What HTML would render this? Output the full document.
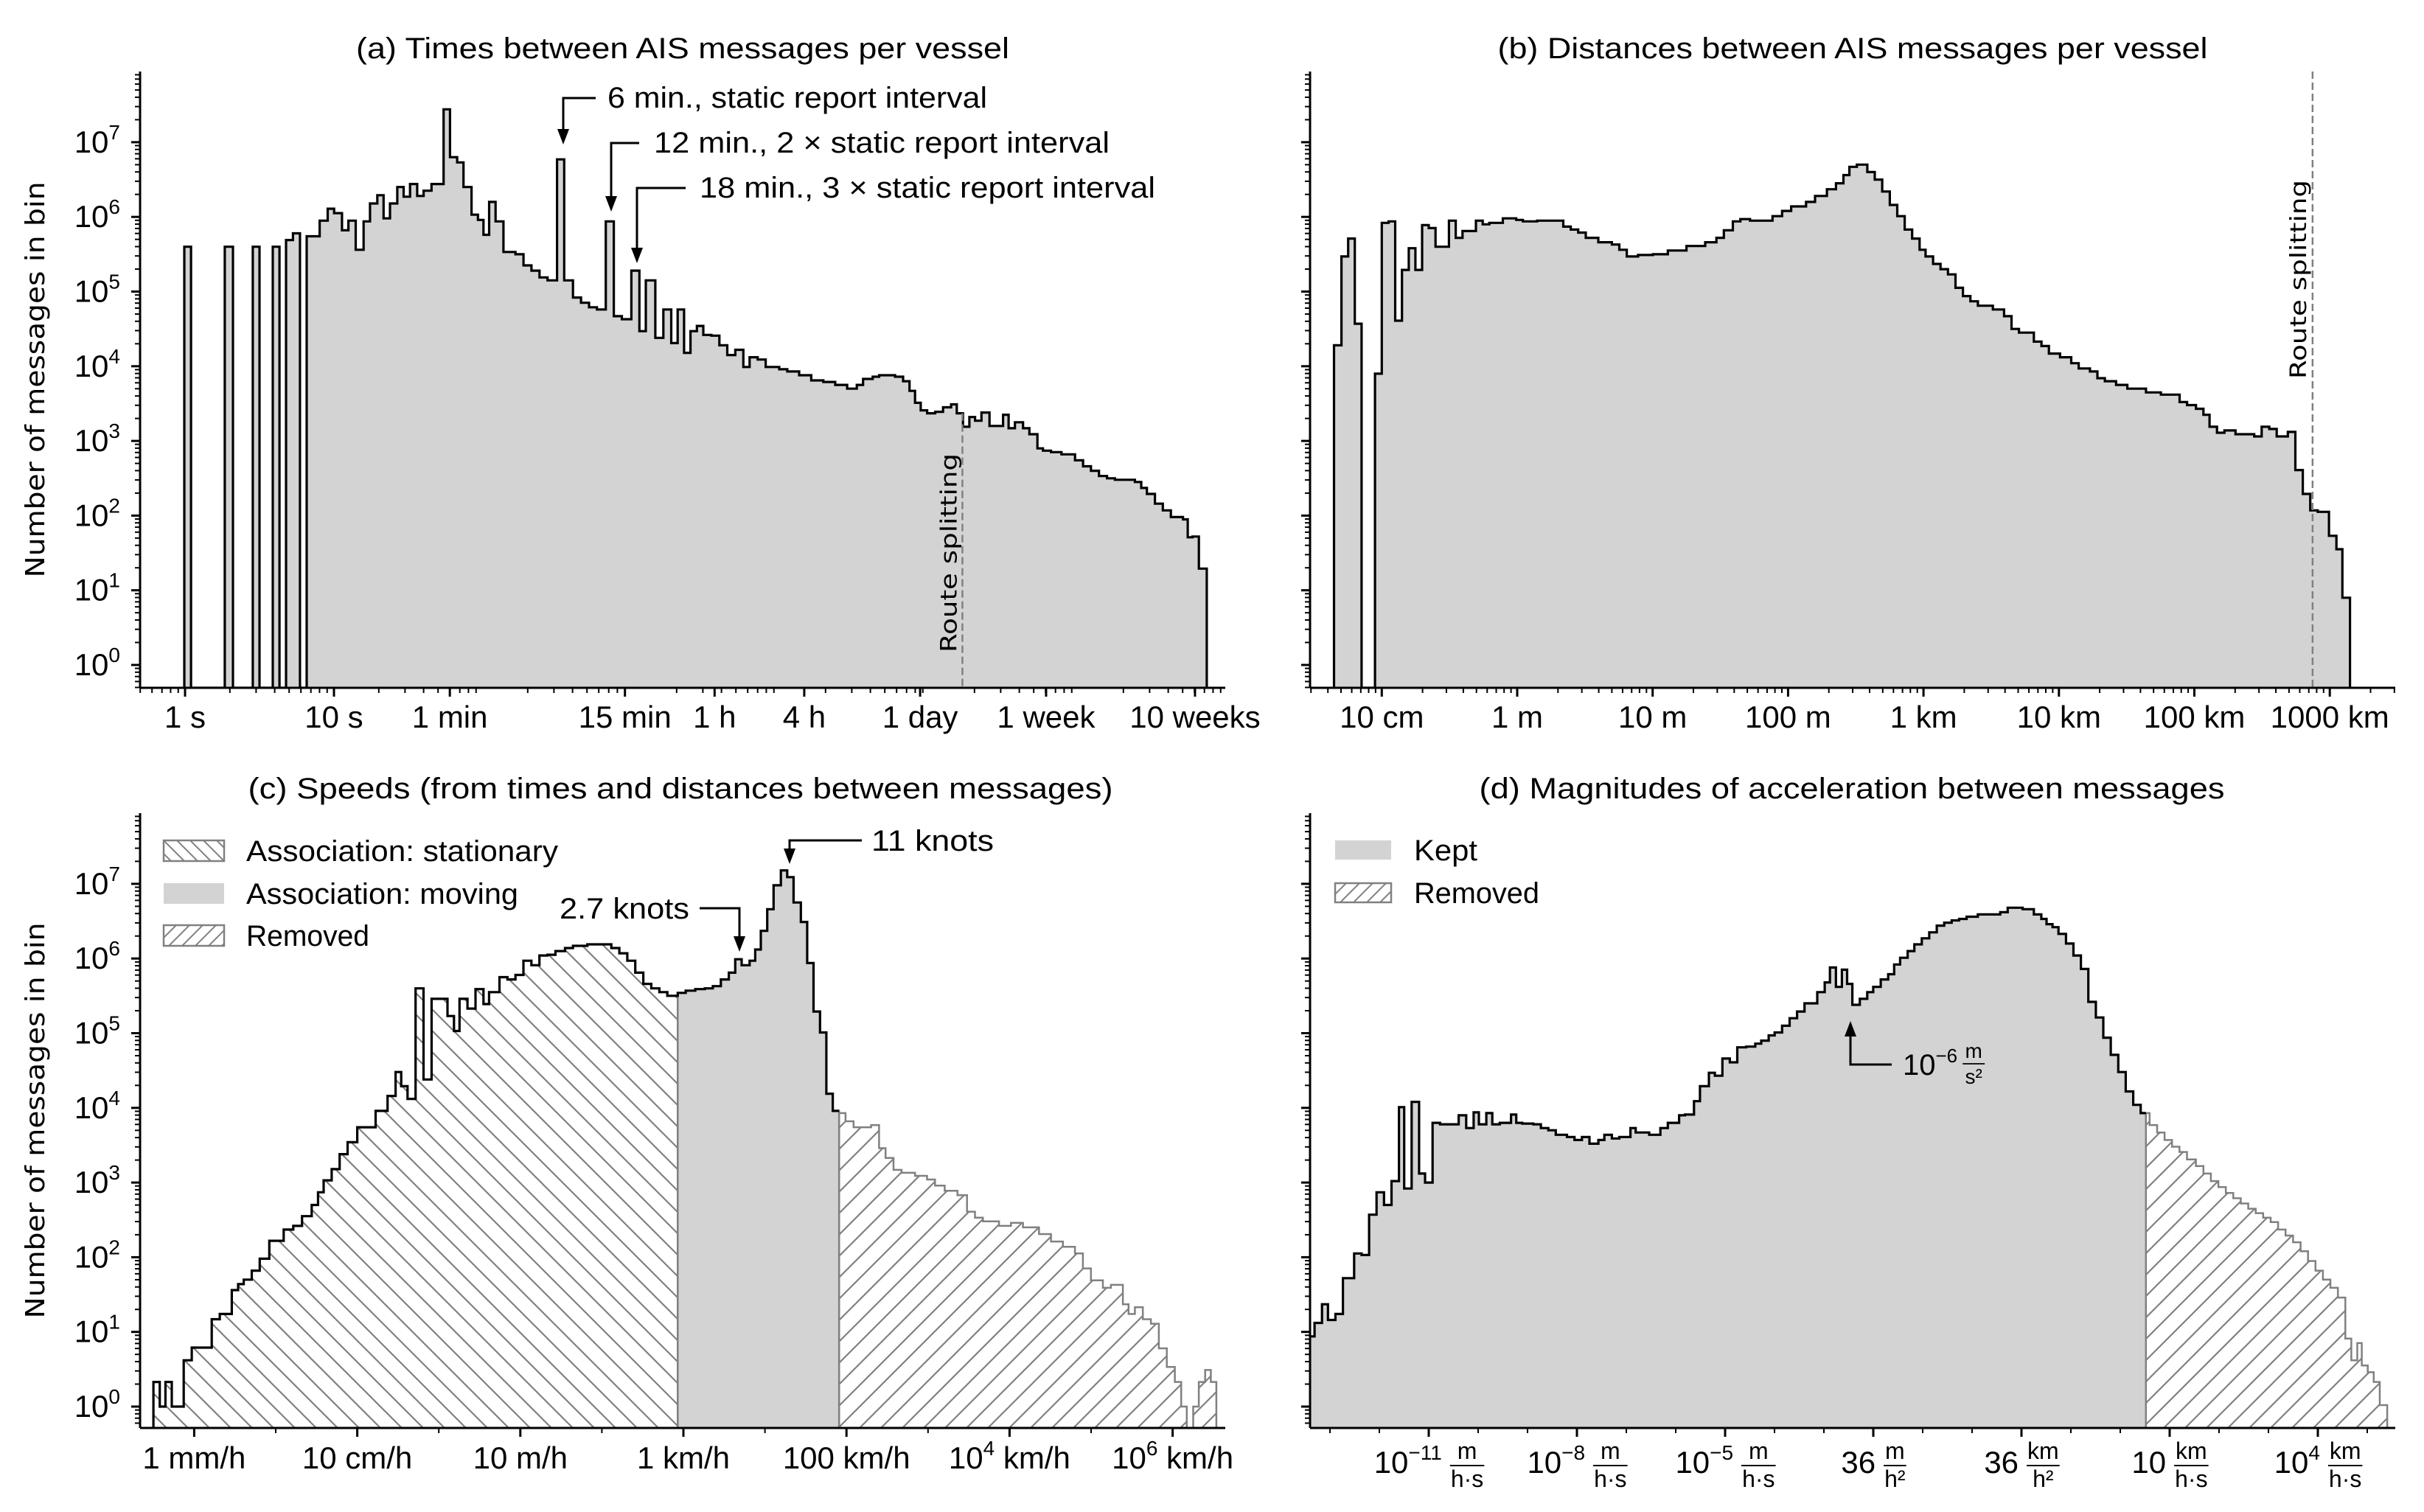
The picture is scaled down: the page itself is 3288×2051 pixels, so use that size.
<!DOCTYPE html>
<html><head><meta charset="utf-8"><style>
html,body{margin:0;padding:0;background:#fff;overflow:hidden}
svg{display:block}
text{font-family:"Liberation Sans",sans-serif;fill:#000}
</style></head><body>
<svg id="fig" xmlns="http://www.w3.org/2000/svg" width="3288" height="2051" viewBox="0 0 3288 2051">
<defs>
<pattern id="hatchBack" patternUnits="userSpaceOnUse" width="29" height="29"><path d="M-5,-5 L34,34 M-5,24 L5,34 M24,-5 L34,5" stroke="#808080" stroke-width="2.2" fill="none"/></pattern>
<pattern id="hatchFwd" patternUnits="userSpaceOnUse" width="29" height="29"><path d="M-5,34 L34,-5 M-5,5 L5,-5 M24,34 L34,24" stroke="#808080" stroke-width="2.2" fill="none"/></pattern>
<pattern id="hatchBackL" patternUnits="userSpaceOnUse" width="18" height="18"><path d="M-5,-5 L23,23 M-5,13 L5,23 M13,-5 L23,5" stroke="#808080" stroke-width="2" fill="none"/></pattern>
<pattern id="hatchFwdL" patternUnits="userSpaceOnUse" width="18" height="18"><path d="M-5,23 L23,-5 M-5,5 L5,-5 M13,23 L23,13" stroke="#808080" stroke-width="2" fill="none"/></pattern>
</defs>
</svg>
<script>
// ---------- DATA (x in log10 units, counts in log10) ----------
const aEdges=[-0.005,0.04,0.267,0.322,0.455,0.5,0.589,0.634,0.678,0.725,0.772,0.817,0.904,0.958,1.001,1.054,1.097,1.146,1.199,1.242,1.291,1.333,1.376,1.425,1.468,1.511,1.559,1.602,1.655,1.736,1.779,1.827,1.870,1.924,1.967,2.004,2.042,2.085,2.138,2.219,2.273,2.326,2.380,2.434,2.498,2.546,2.605,2.659,2.713,2.766,2.825,2.879,2.933,2.997,3.051,3.094,3.158,3.212,3.265,3.308,3.351,3.394,3.437,3.480,3.534,3.588,3.641,3.695,3.749,3.791,3.845,3.899,3.990,4.044,4.124,4.205,4.286,4.366,4.446,4.511,4.553,4.618,4.661,4.768,4.822,4.865,4.902,4.940,4.983,5.037,5.090,5.144,5.182,5.224,5.267,5.305,5.348,5.402,5.450,5.493,5.530,5.573,5.627,5.670,5.724,5.761,5.815,5.885,5.976,6.030,6.083,6.137,6.191,6.244,6.378,6.421,6.459,6.513,6.566,6.620,6.701,6.733,6.765,6.808,6.861];
const aCounts=[5.6,null,5.6,null,5.6,null,5.6,null,5.69,5.78,null,
5.74,5.95,6.11,6.05,5.82,5.95,5.56,5.94,6.18,6.29,
5.98,6.18,6.40,6.27,6.44,6.28,6.35,6.44,7.44,6.80,
6.73,6.40,6.03,5.96,5.76,6.20,5.94,5.53,5.50,5.35,
5.28,5.19,5.15,6.77,5.15,4.92,4.85,4.79,4.76,5.94,
4.67,4.63,5.28,4.47,5.15,4.38,4.76,4.31,4.76,4.18,
4.47,4.54,4.42,4.41,4.28,4.15,4.22,3.99,4.12,4.09,
3.99,3.96,3.93,3.88,3.81,3.79,3.75,3.70,3.75,3.83,
3.86,3.88,3.86,3.80,3.67,3.51,3.41,3.37,3.39,3.45,
3.49,3.37,3.19,3.32,3.27,3.38,3.20,3.20,3.35,3.17,
3.25,3.17,3.09,2.90,2.87,2.85,2.82,2.74,2.66,2.60,
2.53,2.50,2.48,2.45,2.37,2.29,2.16,2.07,1.98,1.95,
1.71,1.72,1.29];
const aTickVals=[0,1,1.778,2.954,3.556,4.158,4.936,5.782,6.782];
const aTickLabels=['1 s','10 s','1 min','15 min','1 h','4 h','1 day','1 week','10 weeks'];
const aRouteSplit=5.22;

const bEdges=[-1.353,-1.298,-1.248,-1.199,-1.149,-1.050,-1.000,-0.950,-0.901,-0.851,-0.801,-0.752,-0.702,-0.653,-0.603,-0.504,-0.454,-0.404,-0.305,-0.255,-0.206,-0.106,-0.007,0.042,0.147,0.340,0.395,0.450,0.506,0.599,0.699,0.754,0.809,0.892,1.002,1.112,1.250,1.388,1.471,1.526,1.592,1.648,1.719,1.885,1.956,2.023,2.133,2.199,2.287,2.354,2.409,2.453,2.508,2.585,2.640,2.695,2.751,2.806,2.861,2.916,2.971,3.015,3.071,3.126,3.181,3.236,3.291,3.346,3.402,3.512,3.595,3.650,3.705,3.815,3.871,3.926,4.008,4.091,4.146,4.229,4.284,4.339,4.422,4.505,4.643,4.753,4.891,4.946,5.012,5.067,5.112,5.167,5.222,5.304,5.442,5.497,5.553,5.608,5.690,5.746,5.801,5.856,5.911,5.994,6.049,6.093,6.149];
const bCounts=[4.28,5.47,5.71,4.57,null,3.90,5.92,5.94,4.61,5.29,
5.58,5.29,5.89,5.85,5.60,5.95,5.72,5.81,5.95,5.90,
5.92,5.98,5.96,5.94,5.95,5.87,5.83,5.79,5.72,5.66,
5.63,5.56,5.47,5.49,5.50,5.55,5.61,5.66,5.72,5.82,
5.94,5.97,5.95,6.01,6.08,6.14,6.20,6.28,6.37,6.45,
6.56,6.67,6.70,6.60,6.50,6.34,6.16,6.01,5.83,5.71,
5.56,5.47,5.37,5.30,5.23,5.05,4.94,4.87,4.81,4.76,
4.67,4.50,4.45,4.33,4.27,4.17,4.12,4.04,3.97,3.93,
3.84,3.80,3.75,3.70,3.65,3.62,3.52,3.48,3.43,3.35,
3.19,3.11,3.14,3.09,3.06,3.19,3.16,3.06,3.12,2.61,
2.29,2.07,2.05,1.73,1.55,0.90];
const bTickVals=[-1,0,1,2,3,4,5,6];
const bTickLabels=['10 cm','1 m','10 m','100 m','1 km','10 km','100 km','1000 km'];
const bRouteSplit=5.873;

const cEdges=[-6.500,-6.422,-6.353,-6.275,-6.128,-6.030,-5.785,-5.686,-5.539,-5.461,-5.392,-5.294,-5.196,-5.079,-4.902,-4.785,-4.677,-4.559,-4.481,-4.412,-4.314,-4.216,-4.118,-4.000,-3.873,-3.775,-3.628,-3.530,-3.461,-3.383,-3.285,-3.187,-3.089,-3.011,-2.893,-2.814,-2.746,-2.648,-2.550,-2.452,-2.383,-2.256,-2.158,-2.060,-1.962,-1.864,-1.766,-1.668,-1.570,-1.452,-1.354,-1.178,-1.031,-0.884,-0.786,-0.688,-0.590,-0.492,-0.394,-0.295,-0.197,-0.070,0.028,0.146,0.263,0.361,0.459,0.557,0.636,0.714,0.812,0.881,0.949,1.028,1.106,1.195,1.273,1.351,1.440,1.518,1.596,1.675,1.753,1.832,1.910,1.988,2.087,2.302,2.400,2.479,2.577,2.675,2.841,2.988,3.086,3.204,3.361,3.478,3.576,3.674,3.871,4.017,4.165,4.361,4.508,4.655,4.802,4.900,4.998,5.145,5.243,5.390,5.459,5.537,5.635,5.733,5.831,5.929,6.027,6.105,6.174,6.252,6.321,6.399,6.468,6.536];
const cCounts=[0.33,0.0,0.33,0.0,0.62,0.79,1.17,1.24,1.56,1.64,
1.70,1.82,1.98,2.22,2.37,2.42,2.55,2.70,2.87,3.03,
3.18,3.38,3.54,3.74,3.74,3.96,4.16,4.48,4.29,4.12,
5.60,4.38,5.46,5.46,5.23,5.03,5.46,5.33,5.59,5.39,
5.55,5.75,5.72,5.78,5.97,5.91,6.04,6.05,6.10,6.14,
6.17,6.19,6.19,6.14,6.07,5.97,5.81,5.66,5.60,5.55,
5.50,
5.54,5.57,5.59,5.60,5.63,5.72,5.81,5.99,5.91,
5.97,6.12,6.37,6.66,6.98,7.18,7.09,6.75,6.49,5.94,
5.29,5.01,4.19,3.96,
3.93,3.82,3.74,3.77,3.46,3.33,
3.17,3.13,3.09,3.04,2.96,2.89,2.83,2.61,2.53,2.48,
2.42,2.46,2.40,2.31,2.21,2.14,2.05,1.85,1.69,1.59,
1.63,1.37,1.24,1.33,1.17,1.11,0.78,0.53,0.33,0.0,
null,0.0,0.33,0.49,0.33];
const cMovingStart=-0.070;
const cRemovedStart=1.910;
const cTickVals=[-6,-4,-2,0,2,4,6];
const cTickLabels=[['1 mm/h'],['10 cm/h'],['10 m/h'],['1 km/h'],['100 km/h'],['10','4',' km/h'],['10','6',' km/h']];

const dEdges=[-13.418,-13.312,-13.161,-13.040,-12.889,-12.737,-12.511,-12.359,-12.208,-12.057,-11.906,-11.754,-11.603,-11.497,-11.346,-11.195,-11.074,-10.923,-10.772,-10.590,-10.394,-10.242,-10.091,-9.985,-9.834,-9.713,-9.562,-9.335,-9.229,-9.108,-8.882,-8.730,-8.579,-8.428,-8.201,-8.050,-7.898,-7.747,-7.566,-7.445,-7.293,-7.142,-6.916,-6.810,-6.689,-6.537,-6.311,-6.160,-5.932,-5.812,-5.630,-5.509,-5.328,-5.207,-5.055,-4.904,-4.753,-4.571,-4.390,-4.269,-4.118,-3.997,-3.846,-3.694,-3.543,-3.392,-3.135,-2.984,-2.878,-2.757,-2.636,-2.530,-2.424,-2.273,-2.122,-2.001,-1.850,-1.698,-1.577,-1.456,-1.305,-1.169,-1.018,-0.867,-0.715,-0.564,-0.413,-0.262,-0.111,0.116,0.570,0.721,1.024,1.250,1.402,1.507,1.628,1.749,1.901,2.052,2.203,2.354,2.506,2.657,2.808,2.959,3.111,3.262,3.413,3.519,3.594,3.746,3.897,4.048,4.199,4.351,4.532,4.683,4.835,4.986,5.137,5.288,5.440,5.591,5.742,5.893,6.045,6.196,6.347,6.498,6.650,6.801,6.952,7.103,7.254,7.406,7.557,7.678,7.799,7.890,8.011,8.132,8.253,8.404];
const dCounts=[0.94,1.12,1.37,1.16,1.24,1.72,2.05,2.03,2.57,2.87,
2.70,3.02,4.01,2.92,4.08,3.12,3.00,3.80,3.78,3.78,
3.90,3.73,3.94,3.78,3.93,3.78,3.80,3.91,3.80,3.79,
3.78,3.73,3.70,3.64,3.61,3.57,3.61,3.52,3.57,3.64,
3.59,3.61,3.73,3.67,3.67,3.64,3.73,3.80,3.90,3.91,
4.09,4.29,4.47,4.43,4.66,4.61,4.81,4.82,4.86,4.90,
4.97,5.01,5.10,5.20,5.29,5.40,5.55,5.68,5.88,5.62,
5.85,5.66,5.38,5.46,5.55,5.62,5.72,5.79,5.92,6.01,
6.10,6.19,6.27,6.35,6.44,6.48,6.51,6.53,6.56,6.59,
6.62,6.68,6.66,6.59,6.53,6.46,6.42,6.33,6.20,6.04,
5.86,5.42,5.21,4.94,4.71,4.48,4.22,4.04,3.93,
3.93,3.77,3.67,3.57,3.48,3.41,3.31,3.22,3.12,3.02,
2.94,2.86,2.79,2.72,2.65,2.59,2.53,2.47,2.37,2.29,
2.20,2.08,1.95,1.82,1.70,1.59,1.46,0.91,0.62,0.85,
0.55,0.46,0.33,0.02];
const dRemovedStart=3.519;
const dTickVals=[-11,-8,-5,-2,1,4,7];
const dTickBase=[['10','−11'],['10','−8'],['10','−5'],['36',''],['36',''],['10',''],['10','4']];
const dTickNum=['m','m','m','m','km','km','km'];
const dTickDen=['h·s','h·s','h·s','h²','h²','h·s','h·s'];
const yTickVals=[0,1,2,3,4,5,6,7];

// ---------- helpers ----------
const NS='http://www.w3.org/2000/svg';
const svg=document.getElementById('fig');
function mk(tag,attrs,parent){const e=document.createElementNS(NS,tag);for(const k in attrs)e.setAttribute(k,attrs[k]);(parent||svg).appendChild(e);return e;}

const xA=v=>251+202*v;
const xB=v=>2058+183.7*v;
const xC=v=>927+110.6*v;
const xD=v=>1938+67*(v+11);
const yTop=v=>902-101.3*v;
const yBot=v=>1908-101.3*v;

function idxOf(edges,x){for(let i=0;i<edges.length;i++){if(edges[i]>=x-1e-9)return i;}return edges.length-1;}
function areaD(edges,vals,xf,yf,B,i0,i1){
  let d='M'+xf(edges[i0]).toFixed(1)+','+B;
  for(let i=i0;i<i1;i++){const y=(vals[i]==null)?B:yf(vals[i]);d+=' L'+xf(edges[i]).toFixed(1)+','+y.toFixed(1)+' L'+xf(edges[i+1]).toFixed(1)+','+y.toFixed(1);}
  d+=' L'+xf(edges[i1]).toFixed(1)+','+B+' Z';return d;}
function stepD(edges,vals,xf,yf,B,i0,i1,startDown,endDown){
  let d='';
  for(let i=i0;i<i1;i++){const y=(vals[i]==null)?B:yf(vals[i]);const xl=xf(edges[i]).toFixed(1),xr=xf(edges[i+1]).toFixed(1);
    if(i===i0){d+=startDown?('M'+xl+','+B+' L'+xl+','+y.toFixed(1)):('M'+xl+','+y.toFixed(1));}else d+=' L'+xl+','+y.toFixed(1);
    d+=' L'+xr+','+y.toFixed(1);}
  if(endDown)d+=' L'+xf(edges[i1]).toFixed(1)+','+B;return d;}

function axes(g,P,xf,yf,xMaj,xMin,withYLabels){
  const ya=mk('g',{},g);
  
  
  mk('line',{x1:P.L,y1:P.T,x2:P.L,y2:P.B,stroke:'#000','stroke-width':3},ya);
  for(let d=-1;d<=8;d++){for(let m=2;m<=9;m++){const y=yf(d+Math.log10(m));if(y>P.T&&y<P.B)mk('line',{x1:P.L-7,y1:y,x2:P.L,y2:y,stroke:'#000','stroke-width':2},ya);}}
  yTickVals.forEach(v=>{const y=yf(v);
    const t=mk('line',{x1:P.L-12,y1:y,x2:P.L,y2:y,stroke:'#000','stroke-width':3},ya);
    
    if(withYLabels){const tx=mk('text',{x:P.L-27,y:y+14,'text-anchor':'end','font-size':42},ya);
      
      tx.appendChild(document.createTextNode('10'));
      const s=mk('tspan',{'font-size':28,dy:-18},tx);s.textContent=String(v);}
  });
  const xa=mk('g',{},g);
  
  
  mk('line',{x1:P.L,y1:P.B,x2:P.R,y2:P.B,stroke:'#000','stroke-width':3},xa);
  xMin.forEach(v=>{const x=xf(v);if(x>P.L&&x<P.R)mk('line',{x1:x,y1:P.B,x2:x,y2:P.B+7,stroke:'#000','stroke-width':2},xa);});
  xMaj.forEach(v=>{const x=xf(v);const t=mk('line',{x1:x,y1:P.B,x2:x,y2:P.B+12,stroke:'#000','stroke-width':3},xa);});
  return xa;
}
function title(g,x,y,s,len){const t=mk('text',{x:x,y:y,'text-anchor':'middle','font-size':40,textLength:len,lengthAdjust:'spacingAndGlyphs'},g);t.textContent=s;
  
  return t;}
function ylabel(g,cx,cy){const t=mk('text',{x:0,y:0,transform:'translate('+cx+','+cy+') rotate(-90)','text-anchor':'middle','font-size':36,textLength:537,lengthAdjust:'spacingAndGlyphs',style:'font-family:"DejaVu Sans",sans-serif'},g);
  t.textContent='Number of messages in bin';
  
  }
function arrow(g,pts,tipX,tipY,dir){
  mk('polyline',{points:pts,fill:'none',stroke:'#000','stroke-width':3},g);
  const h=dir>0?-21:21;
  mk('polygon',{points:(tipX-8)+','+(tipY+h)+' '+(tipX+8)+','+(tipY+h)+' '+tipX+','+tipY,fill:'#000'},g);
}
function clip(id,P){const c=mk('clipPath',{id:id},svg.querySelector('defs'));mk('rect',{x:P.L,y:P.T-2,width:P.R-P.L,height:P.B-P.T+2},c);}
function logMinors(lo,hi){const r=[];for(let d=lo;d<=hi;d++)for(let m=2;m<=9;m++)r.push(d+Math.log10(m));return r;}

// ---------- Panel A ----------
(function(){
  const P={L:190,R:1662,T:97,B:933};
  const g=mk('g',{});
  
  
  clip('clipA',P);
  const hg=mk('g',{'clip-path':'url(#clipA)'},g);
  const n=aCounts.length;
  const f=mk('path',{d:areaD(aEdges,aCounts,xA,yTop,P.B,0,n),fill:'#d3d3d3'},hg);
  
  const s=mk('path',{d:stepD(aEdges,aCounts,xA,yTop,P.B,0,n,true,true),fill:'none',stroke:'#000','stroke-width':3.2},hg);
  
  let ri=0;for(let i=0;i<n;i++){if(aEdges[i]<=aRouteSplit&&aEdges[i+1]>aRouteSplit)ri=i;}
  const rl=mk('line',{x1:xA(aRouteSplit),y1:yTop(aCounts[ri]),x2:xA(aRouteSplit),y2:P.B,stroke:'#808080','stroke-width':2.5,'stroke-dasharray':'10,5'},g);
  
  const rt=mk('text',{x:0,y:0,transform:'translate('+(xA(aRouteSplit)-8)+',885) rotate(-90)','font-size':30,textLength:270,lengthAdjust:'spacingAndGlyphs',style:'font-family:"DejaVu Sans",sans-serif'},g);
  rt.textContent='Route splitting';
  
  const xa=axes(g,P,xA,yTop,aTickVals,logMinors(-1,7),true);
  aTickVals.forEach((v,i)=>{const t=mk('text',{x:xA(v),y:987,'text-anchor':'middle','font-size':42},xa);t.textContent=aTickLabels[i];
    });
  title(g,926,79,'(a) Times between AIS messages per vessel',886);
  ylabel(g,60,515);
  const an=mk('g',{},g);
  
  
  arrow(an,'808,133 764,133 764,178',764,196,1);
  arrow(an,'867,194 829,194 829,268',829,287,1);
  arrow(an,'930,255 864,255 864,338',864,357,1);
  [['6 min., static report interval',824,146,515],['12 min., 2 × static report interval',887,207,618],['18 min., 3 × static report interval',949,268,618]].forEach(a=>{
    const t=mk('text',{x:a[1],y:a[2],'font-size':40,textLength:a[3],lengthAdjust:'spacingAndGlyphs'},an);t.textContent=a[0];
    });
})();

// ---------- Panel B ----------
(function(){
  const P={L:1777,R:3249,T:97,B:933};
  const g=mk('g',{});
  
  
  clip('clipB',P);
  const hg=mk('g',{'clip-path':'url(#clipB)'},g);
  const n=bCounts.length;
  const f=mk('path',{d:areaD(bEdges,bCounts,xB,yTop,P.B,0,n),fill:'#d3d3d3'},hg);
  
  const s=mk('path',{d:stepD(bEdges,bCounts,xB,yTop,P.B,0,n,true,true),fill:'none',stroke:'#000','stroke-width':3.2},hg);
  
  const rl=mk('line',{x1:xB(bRouteSplit),y1:P.T,x2:xB(bRouteSplit),y2:P.B,stroke:'#808080','stroke-width':2.5,'stroke-dasharray':'10,5'},g);
  
  const rt=mk('text',{x:0,y:0,transform:'translate('+(xB(bRouteSplit)-9)+',514) rotate(-90)','font-size':30,textLength:270,lengthAdjust:'spacingAndGlyphs',style:'font-family:"DejaVu Sans",sans-serif'},g);
  rt.textContent='Route splitting';
  
  const xa=axes(g,P,xB,yTop,bTickVals,logMinors(-2,6),false);
  bTickVals.forEach((v,i)=>{const t=mk('text',{x:xB(v),y:987,'text-anchor':'middle','font-size':42},xa);t.textContent=bTickLabels[i];
    });
  title(g,2513,79,'(b) Distances between AIS messages per vessel',963);
})();

// ---------- Panel C ----------
(function(){
  const P={L:190,R:1662,T:1103,B:1937};
  const g=mk('g',{});
  
  
  clip('clipC',P);
  const hg=mk('g',{'clip-path':'url(#clipC)'},g);
  const n=cCounts.length;
  const iM=idxOf(cEdges,cMovingStart), iR=idxOf(cEdges,cRemovedStart);
  const st=mk('path',{d:areaD(cEdges,cCounts,xC,yBot,P.B,0,iM),fill:'url(#hatchBack)',stroke:'#808080','stroke-width':2.5},hg);
  
  const mv=mk('path',{d:areaD(cEdges,cCounts,xC,yBot,P.B,iM,iR),fill:'#d3d3d3',stroke:'#808080','stroke-width':2.5},hg);
  
  const rm=mk('path',{d:areaD(cEdges,cCounts,xC,yBot,P.B,iR,n),fill:'url(#hatchFwd)',stroke:'#808080','stroke-width':2.5},hg);
  
  const s=mk('path',{d:stepD(cEdges,cCounts,xC,yBot,P.B,0,iR,true,false),fill:'none',stroke:'#000','stroke-width':3.2},hg);
  
  const xa=axes(g,P,xC,yBot,cTickVals,[-5,-3,-1,1,3,5],true);
  cTickVals.forEach((v,i)=>{const L=cTickLabels[i];const t=mk('text',{x:xC(v),y:1992,'text-anchor':'middle','font-size':42},xa);
    
    if(L.length===1)t.textContent=L[0];else{t.appendChild(document.createTextNode(L[0]));const s1=mk('tspan',{'font-size':28,dy:-18},t);s1.textContent=L[1];const s2=mk('tspan',{dy:18},t);s2.textContent=L[2];}});
  title(g,923,1083,'(c) Speeds (from times and distances between messages)',1173);
  ylabel(g,60,1520);
  const lg=mk('g',{},g);
  
  
  [['url(#hatchBackL)','#808080','Association: stationary',1140,423],['#d3d3d3','none','Association: moving',1198,369],['url(#hatchFwdL)','#808080','Removed',1255,167]].forEach(e=>{
    const r=mk('rect',{x:222,y:e[3],width:82,height:28,fill:e[0],stroke:e[1],'stroke-width':2.5},lg);
    
    const t=mk('text',{x:334,y:e[3]+28,'font-size':40,textLength:e[4],lengthAdjust:'spacingAndGlyphs'},lg);t.textContent=e[2];
    });
  const an=mk('g',{},g);
  
  
  arrow(an,'1169,1140 1071,1140 1071,1153',1071,1172,1);
  arrow(an,'949,1232 1003,1232 1003,1272',1003,1291,1);
  const t1=mk('text',{x:1182,y:1154,'font-size':40,textLength:166,lengthAdjust:'spacingAndGlyphs'},an);t1.textContent='11 knots';
  
  const t2=mk('text',{x:935,y:1246,'text-anchor':'end','font-size':40,textLength:176,lengthAdjust:'spacingAndGlyphs'},an);t2.textContent='2.7 knots';
  
})();

// ---------- Panel D ----------
(function(){
  const P={L:1777,R:3249,T:1103,B:1937};
  const g=mk('g',{});
  
  
  clip('clipD',P);
  const hg=mk('g',{'clip-path':'url(#clipD)'},g);
  const n=dCounts.length;
  const iR=idxOf(dEdges,dRemovedStart);
  const kp=mk('path',{d:areaD(dEdges,dCounts,xD,yBot,P.B,0,iR),fill:'#d3d3d3'},hg);
  
  const rm=mk('path',{d:areaD(dEdges,dCounts,xD,yBot,P.B,iR,n),fill:'url(#hatchFwd)',stroke:'#808080','stroke-width':2.5},hg);
  
  const s=mk('path',{d:stepD(dEdges,dCounts,xD,yBot,P.B,0,iR,true,false),fill:'none',stroke:'#000','stroke-width':3.2},hg);
  
  const minors=[];for(let d=-13;d<=8;d++){if(dTickVals.indexOf(d)<0)minors.push(d);}
  const xa=axes(g,P,xD,yBot,dTickVals,minors,false);
  dTickVals.forEach((v,i)=>{
    const lgp=mk('g',{},xa);
    
    const t=mk('text',{x:0,y:1998,'font-size':42},lgp);
    t.appendChild(document.createTextNode(dTickBase[i][0]));
    if(dTickBase[i][1]){const s1=mk('tspan',{'font-size':28,dy:-18},t);s1.textContent=dTickBase[i][1];}
    const nu=mk('text',{x:0,y:1979,'font-size':32,'text-anchor':'middle'},lgp);nu.textContent=dTickNum[i];
    const de=mk('text',{x:0,y:2017,'font-size':32,'text-anchor':'middle'},lgp);de.textContent=dTickDen[i];
    const w1=t.getComputedTextLength(),fw=Math.max(nu.getComputedTextLength(),de.getComputedTextLength());
    const total=w1+12+fw;const st=xD(v)-total/2;
    t.setAttribute('x',st);const fc=st+w1+12+fw/2;
    nu.setAttribute('x',fc);de.setAttribute('x',fc);
    mk('line',{x1:fc-fw/2-1,y1:1988,x2:fc+fw/2+1,y2:1988,stroke:'#000','stroke-width':2},lgp);
  });
  title(g,2512,1083,'(d) Magnitudes of acceleration between messages',1011);
  const lg=mk('g',{},g);
  
  
  [['#d3d3d3','none','Kept',1140,86],['url(#hatchFwdL)','#808080','Removed',1198,170]].forEach(e=>{
    const r=mk('rect',{x:1811,y:e[3],width:76,height:26,fill:e[0],stroke:e[1],'stroke-width':2.5},lg);
    
    const t=mk('text',{x:1918,y:e[3]+27,'font-size':40,textLength:e[4],lengthAdjust:'spacingAndGlyphs'},lg);t.textContent=e[2];
    });
  const an=mk('g',{},g);
  
  
  arrow(an,'2566,1444 2510,1444 2510,1404',2510,1385,-1);
  const t=mk('text',{x:2581,y:1458,'font-size':40},an);
  
  t.appendChild(document.createTextNode('10'));const s1=mk('tspan',{'font-size':26,dy:-17},t);s1.textContent='−6';
  const w=t.getComputedTextLength();const fc=2581+w+22;
  const nu=mk('text',{x:fc,y:1435,'font-size':28,'text-anchor':'middle'},an);nu.textContent='m';
  const de=mk('text',{x:fc,y:1470,'font-size':28,'text-anchor':'middle'},an);de.textContent='s²';
  mk('line',{x1:fc-15,y1:1443,x2:fc+15,y2:1443,stroke:'#000','stroke-width':1.8},an);
})();
</script>
</body></html>
